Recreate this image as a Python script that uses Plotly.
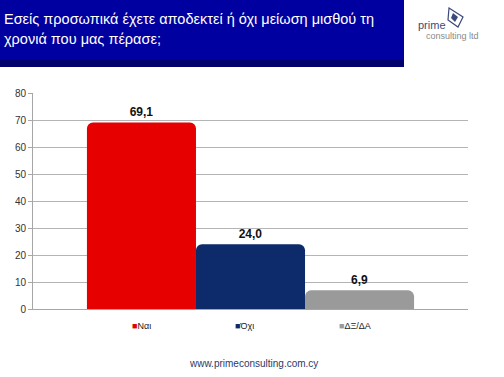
import plotly.graph_objects as go

# Data
series_names = ["Ναι", "Όχι", "ΔΞ/ΔΑ"]
series_values = [69.1, 24.0, 6.9]
series_colors = ["#e60000", "#0d2a6b", "#9a9a9a"]
category = [""]
y_ticks = [0, 10, 20, 30, 40, 50, 60, 70, 80]
title_lines = ["Εσείς προσωπικά έχετε αποδεκτεί ή όχι μείωση μισθού τη",
               "χρονιά που μας πέρασε;"]
footer_text = "www.primeconsulting.com.cy"

W, H = 504, 377
L, R, T, B = 33, 36, 93, 68
pw, ph = W - L - R, H - T - B


def px(xp):
    return (xp - L) / pw


def py(yp):
    return (H - B - yp) / ph


fig = go.Figure()
for name, val, col in zip(series_names, series_values, series_colors):
    fig.add_trace(go.Bar(
        x=category, y=[val], name=name,
        marker=dict(color=col, line=dict(width=0), cornerradius=6),
        texttemplate="<b>%{y:.1f}</b>", textposition="outside",
        textfont=dict(family="Arial, Liberation Sans", size=12, color="#111"),
        cliponaxis=False, showlegend=False,
    ))

shapes = [
    # header box
    dict(type="rect", xref="paper", yref="paper", x0=px(0), x1=px(404), y0=py(67), y1=py(0),
         fillcolor="#0000a0", line=dict(width=0), layer="below"),
    dict(type="rect", xref="paper", yref="paper", x0=px(0), x1=px(404), y0=py(67), y1=py(60),
         fillcolor="#00006e", line=dict(width=0), layer="below"),
    # logo icon (diamond)
    dict(type="path", xref="paper", yref="paper",
         path=f"M {px(449)} {py(8)} L {px(463)} {py(17)} L {px(458)} {py(27)} L {px(448)} {py(20)} Z",
         fillcolor="rgba(0,0,0,0)", line=dict(color="#3b4a78", width=1.2)),
    dict(type="path", xref="paper", yref="paper",
         path=f"M {px(453)} {py(13)} L {px(458)} {py(17)} L {px(455)} {py(22)} L {px(451)} {py(18)} Z",
         fillcolor="#3b4a78", line=dict(width=0)),
]

annotations = []
for i, line in enumerate(title_lines):
    annotations.append(dict(
        text=line, xref="paper", yref="paper", x=px(2), y=py(19 + 20 * i),
        xanchor="left", yanchor="middle", showarrow=False,
        font=dict(family="Arial, Liberation Sans", size=14.5, color="white")))

annotations.append(dict(text="prime", xref="paper", yref="paper", x=px(416), y=py(24.5),
                        xanchor="left", yanchor="middle", showarrow=False,
                        font=dict(family="Arial, Liberation Sans", size=11, color="#3b4a78")))
annotations.append(dict(text="consulting ltd", xref="paper", yref="paper", x=px(424), y=py(36),
                        xanchor="left", yanchor="middle", showarrow=False,
                        font=dict(family="Arial, Liberation Sans", size=9, color="#8a8a8a")))

legend_x = [130, 233, 337]
for name, col, lx in zip(series_names, series_colors, legend_x):
    annotations.append(dict(
        text=f"<span style='color:{col}'>■</span>{name}", xref="paper", yref="paper",
        x=px(lx), y=py(326), xanchor="left", yanchor="middle", showarrow=False,
        font=dict(family="Arial, Liberation Sans", size=9, color="#222")))

annotations.append(dict(text=footer_text, xref="paper", yref="paper", x=px(253), y=py(363),
                        xanchor="center", yanchor="middle", showarrow=False,
                        font=dict(family="Arial, Liberation Sans", size=10, color="#2c3a6a")))

fig.update_layout(
    width=W, height=H, margin=dict(l=L, r=R, t=T, b=B),
    paper_bgcolor="white", plot_bgcolor="white",
    barmode="group", bargap=0.248, bargroupgap=0,
    separators=",.",
    shapes=shapes, annotations=annotations,
    showlegend=False,
)
fig.update_yaxes(range=[0, 80], tickvals=y_ticks, gridcolor="#b4b4b4", gridwidth=1,
                 showline=True, linecolor="#a6a6a6", ticks="outside", ticklen=4, tickcolor="#a6a6a6",
                 tickfont=dict(family="Arial, Liberation Sans", size=10, color="#333"),
                 zeroline=False, fixedrange=True)
fig.update_xaxes(showline=True, linecolor="#a6a6a6", showticklabels=False, ticks="",
                 fixedrange=True)

fig.write_html("out.html")
